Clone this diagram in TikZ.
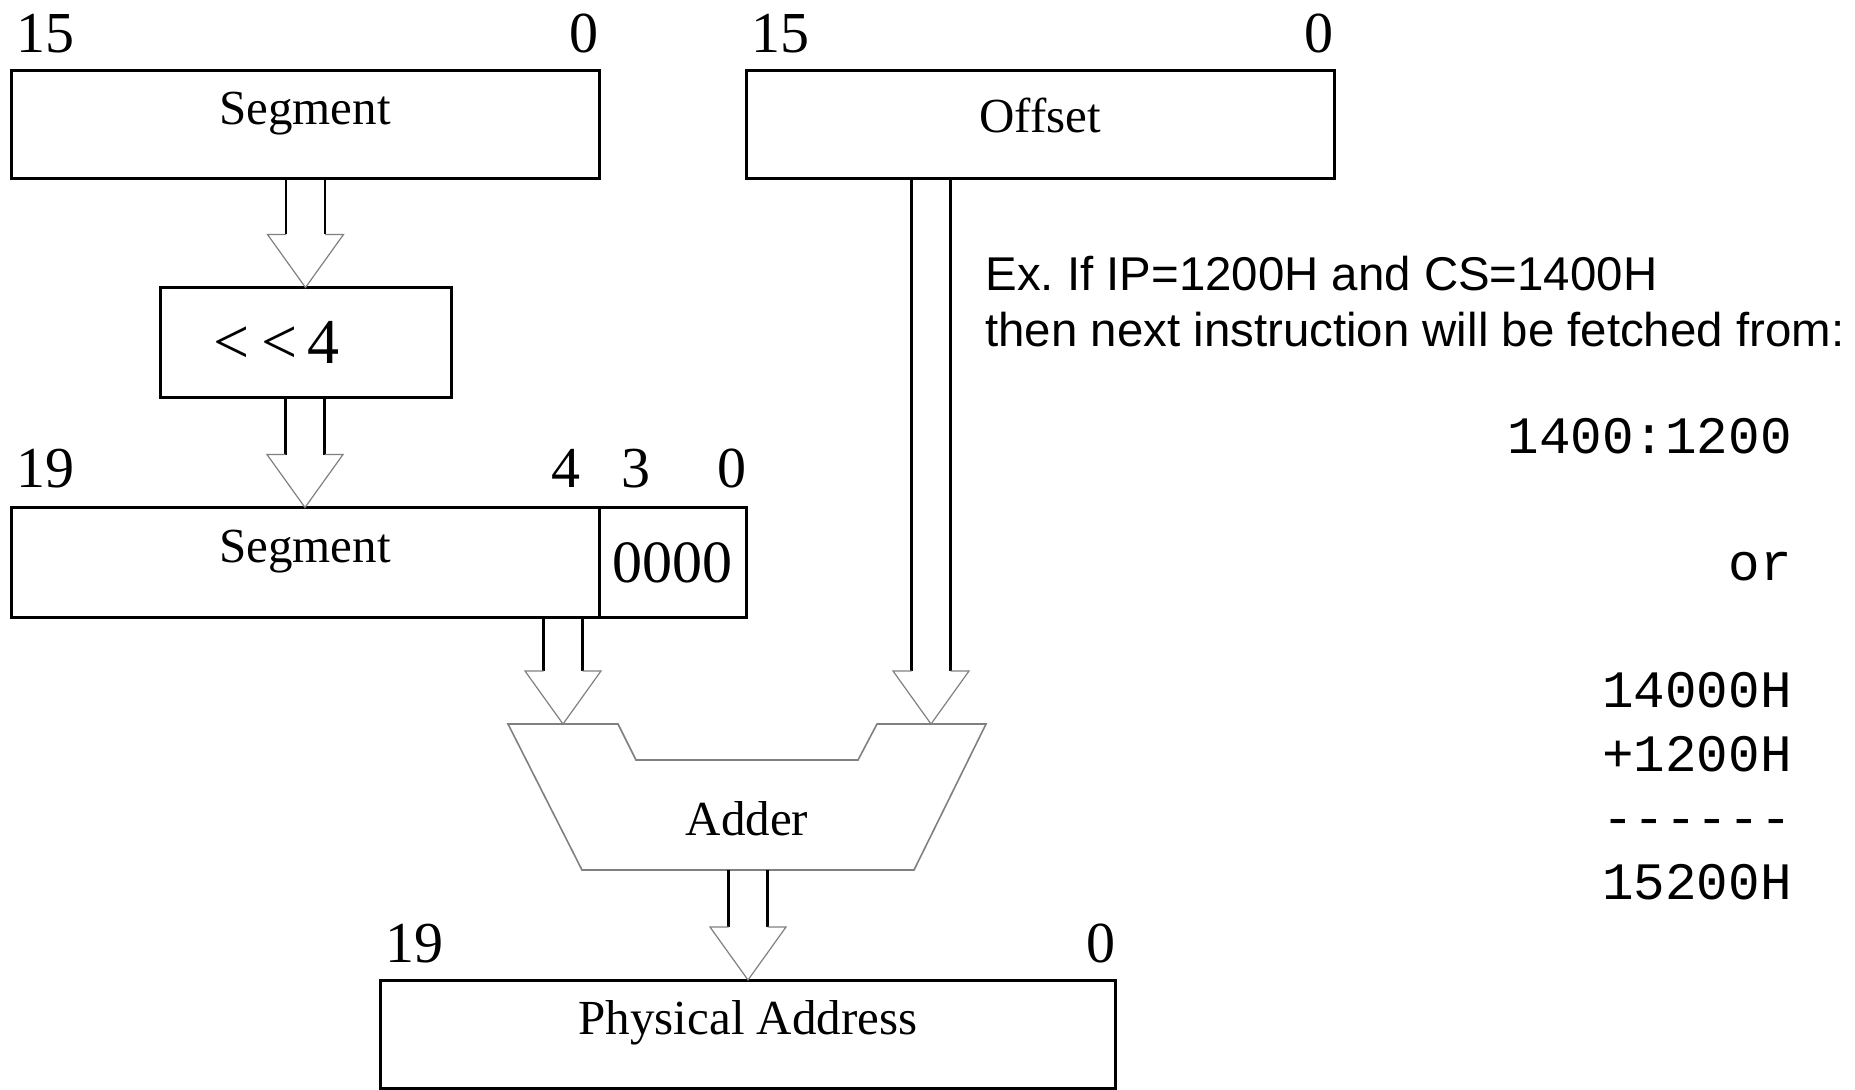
\documentclass[tikz,border=0pt]{standalone}
\usepackage{fontspec}
\setmainfont{Liberation Serif}
\setsansfont{Liberation Sans}
\setmonofont{Liberation Mono}
\usepackage{xcolor}
\usepackage{tikz}
\usetikzlibrary{calc,positioning}

\newcommand{\busarrow}[2]{%
    \draw[busstem] ($(#1)+(-19.5,0)$) -- ($(#2)+(-19.5,-53)$);
    \draw[busstem] ($(#1)+(19.5,0)$) -- ($(#2)+(19.5,-53)$);
    \draw[bushead] ($(#2)+(-19.5,-53)$) -- ($(#2)+(-38,-53)$) -- (#2)
        -- ($(#2)+(38,-53)$) -- ($(#2)+(19.5,-53)$);
}

\tikzset{
    reg/.style={draw, line width=1.5pt, inner sep=0pt, outer sep=0pt, minimum width=294pt,
        minimum height=54pt, font=\fontsize{24.5}{29}\selectfont},
    uptext/.style={text height=17pt, text depth=17pt},
    bitno/.style={inner sep=0pt, font=\fontsize{29}{34}\selectfont},
    busstem/.style={line width=1.2pt},
    bushead/.style={gray, line width=0.6pt},
    adder/.style={gray, line width=0.8pt},
    note/.style={inner sep=0pt, anchor=base west, font=\sffamily\fontsize{23.7}{28}\selectfont},
    sumline/.style={inner sep=0pt, anchor=base east, font=\ttfamily\fontsize{26.3}{32}\selectfont}
}

\begin{document}
\begin{tikzpicture}[x=0.5pt,y=-0.5pt]
    \useasboundingbox (0,0) rectangle (1855,1090);
    \node[reg, uptext] (seg1) at (305,125) {Segment};
    \node[reg, text height=17pt, text depth=9pt] (off) at (1040,125) {Offset};
    \node[reg, minimum width=145.5pt, minimum height=55pt, inner xsep=26.5pt, text width=92.5pt,
        align=left, font=\fontsize{32}{36}\selectfont] (shift) at (305.5,342.5) {<\hspace{0.2em}<\hspace{0.15em}4};
    \node[reg, uptext, minimum height=55pt] (seg2) at (305,562.5) {Segment};
    \node[reg, minimum width=73.75pt, minimum height=55pt, anchor=west,
        font=\fontsize{30}{36}\selectfont] (zeros) at (seg2.east) {0000};
    \node[reg, uptext, minimum width=367.75pt] (phys) at (748,1034) {Physical Address};

    \node[bitno, anchor=base west] (seg1hi) at ($(seg1.north west)+(5,-18)$) {15};
    \node[bitno, anchor=base east] (seg1lo) at ($(seg1.north east)+(0,-18)$) {0};
    \node[bitno, anchor=base west] (offhi) at ($(off.north west)+(5,-18)$) {15};
    \node[bitno, anchor=base east] (offlo) at ($(off.north east)+(0,-18)$) {0};
    \node[bitno, anchor=base west] (seg2hi) at ($(seg2.north west)+(5,-20)$) {19};
    \node[bitno, anchor=base east] (seg2b4) at ($(seg2.north east)+(-18,-20)$) {4};
    \node[bitno, anchor=base west] (seg2b3) at ($(seg2.north east)+(22,-20)$) {3};
    \node[bitno, anchor=base east] (seg2lo) at ($(zeros.north east)+(0,-20)$) {0};
    \node[bitno, anchor=base west] (physhi) at ($(phys.north west)+(5,-18)$) {19};
    \node[bitno, anchor=base east] (physlo) at ($(phys.north east)+(0,-18)$) {0};

    \coordinate (addin1) at (563,724);
    \coordinate (addin2) at (931,724);
    \coordinate (addout) at (747,870);
    \draw[adder] (508,724) -- (618,724) -- (636,760) -- (858,760) -- (877,724) -- (986,724)
        -- (914,870) -- (582,870) -- cycle;
    \node[font=\fontsize{24.5}{29}\selectfont, inner sep=0pt, anchor=base] (addlbl) at (747,835) {Adder};

    \busarrow{shift.north |- seg1.south}{shift.north}
    \busarrow{seg2.north |- shift.south}{seg2.north}
    \busarrow{addin1 |- seg2.south}{addin1}
    \busarrow{addin2 |- off.south}{addin2}
    \busarrow{phys.north |- addout}{phys.north}

    \node[note] (note1) at (985,291) {Ex.\ If IP=1200H and CS=1400H};
    \node[note] (note2) at (985,347) {then next instruction will be fetched from:};

    \node[sumline] (addr) at (1792,453) {1400:1200};
    \node[sumline] (alt) at (1792,580) {or};
    \node[sumline] (sum1) at (1792,707.5) {14000H};
    \node[sumline] (sum2) at (1792,771) {+1200H};
    \node[sumline] (bar) at (1792,835) {-{}-{}-{}-{}-{}-};
    \node[sumline] (total) at (1792,899) {15200H};
\end{tikzpicture}
\end{document}
